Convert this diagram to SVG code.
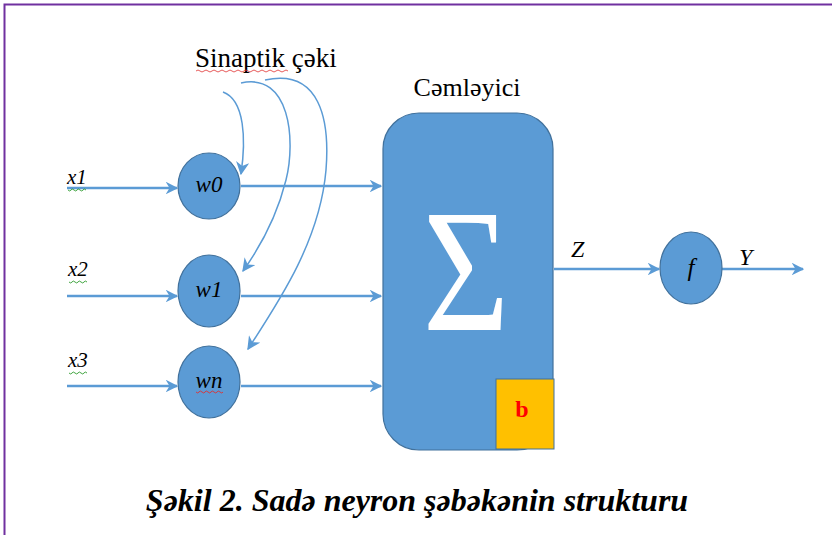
<svg xmlns="http://www.w3.org/2000/svg" width="832" height="535" viewBox="0 0 832 535">
<defs>
<marker id="ah" viewBox="0 0 10 10" refX="9" refY="5" markerWidth="5" markerHeight="5" orient="auto" markerUnits="strokeWidth">
<path d="M0,0 L10,5 L0,10 L3,5 Z" fill="#5b9bd5"/>
</marker>
<marker id="ahc" viewBox="0 0 10 10" refX="9" refY="5" markerWidth="9" markerHeight="9" orient="auto" markerUnits="strokeWidth">
<path d="M0,0 L10,5 L0,10 L3,5 Z" fill="#5b9bd5"/>
</marker>
</defs>
<rect width="832" height="535" fill="#fff"/>
<path d="M4.5,535 V4.5 H832" fill="none" stroke="#7030a0" stroke-width="2"/>

<g id="connectors" stroke="#5b9bd5" fill="none">
<g stroke-width="2.5">
<line x1="67" y1="188" x2="177" y2="188" marker-end="url(#ah)"/>
<line x1="67" y1="296" x2="177" y2="296" marker-end="url(#ah)"/>
<line x1="67" y1="386" x2="177" y2="386" marker-end="url(#ah)"/>
<line x1="241" y1="186" x2="381" y2="186" marker-end="url(#ah)"/>
<line x1="241" y1="296" x2="381" y2="296" marker-end="url(#ah)"/>
<line x1="241" y1="386" x2="381" y2="386" marker-end="url(#ah)"/>
<line x1="554" y1="269" x2="659" y2="269" marker-end="url(#ah)"/>
<line x1="722" y1="269" x2="803" y2="269" marker-end="url(#ah)"/>
</g>
<g stroke-width="1.5">
<path d="M223,92 C245,100 246,140 241,174" marker-end="url(#ahc)"/>
<path d="M241,83 C290,72 296,140 286,180 C276,220 258,250 243,271" marker-end="url(#ahc)"/>
<path d="M265,80 C320,68 330,120 326,170 C320,240 280,300 248,349" marker-end="url(#ahc)"/>
</g>
</g>

<g id="label-sinaptik">
<text x="195" y="67" font-family="Liberation Serif, serif" font-size="27" fill="#000">Sinaptik çəki</text>
<path d="M196,71 q2,-2 4,0 t4,0 t4,0 t4,0 t4,0 t4,0 t4,0 t4,0 t4,0 t4,0 t4,0 t4,0 t4,0 t4,0 t4,0 t4,0 t4,0 t4,0 t4,0 t4,0 t4,0 t4,0 t4,0" fill="none" stroke="#e03030" stroke-width="0.8"/>
</g>

<g id="input-x1">
<text x="67" y="184" font-family="Liberation Serif, serif" font-style="italic" font-size="21" fill="#000">x1</text>
<path d="M68,190 q2,2 3,0 t3,0 t3,0 t3,0 t3,0 t3,0" fill="none" stroke="#2e9c2e" stroke-width="0.9"/>
</g>
<g id="input-x2">
<text x="68" y="276" font-family="Liberation Serif, serif" font-style="italic" font-size="21" fill="#000">x2</text>
<path d="M69,282 q2,2 3,0 t3,0 t3,0 t3,0 t3,0 t3,0" fill="none" stroke="#2e9c2e" stroke-width="0.9"/>
</g>
<g id="input-x3">
<text x="68" y="367" font-family="Liberation Serif, serif" font-style="italic" font-size="21" fill="#000">x3</text>
<path d="M69,373 q2,2 3,0 t3,0 t3,0 t3,0 t3,0 t3,0" fill="none" stroke="#2e9c2e" stroke-width="0.9"/>
</g>

<g id="node-w0">
<ellipse cx="209" cy="186" rx="31" ry="33" fill="#5b9bd5" stroke="#41719c" stroke-width="1.2"/>
<text x="209" y="192" font-family="Liberation Serif, serif" font-style="italic" font-size="23" text-anchor="middle" fill="#000">w0</text>
</g>
<g id="node-w1">
<ellipse cx="209" cy="291" rx="31" ry="36" fill="#5b9bd5" stroke="#41719c" stroke-width="1.2"/>
<text x="209" y="297" font-family="Liberation Serif, serif" font-style="italic" font-size="23" text-anchor="middle" fill="#000">w1</text>
</g>
<g id="node-wn">
<ellipse cx="209" cy="382" rx="31" ry="36" fill="#5b9bd5" stroke="#41719c" stroke-width="1.2"/>
<text x="209" y="388" font-family="Liberation Serif, serif" font-style="italic" font-size="23" text-anchor="middle" fill="#000">wn</text>
<path d="M196,392 q2,2 3,0 t3,0 t3,0 t3,0 t3,0 t3,0 t3,0 t3,0 t3,0" fill="none" stroke="#e03030" stroke-width="0.9"/>
</g>

<g id="node-summator">
<text x="467" y="96" font-family="Liberation Serif, serif" font-size="26" text-anchor="middle" fill="#000">Cəmləyici</text>
<rect x="383" y="113" width="170" height="337" rx="36" ry="36" fill="#5b9bd5" stroke="#41719c" stroke-width="1.2"/>
<text x="0" y="0" font-family="Liberation Serif, serif" font-size="175" text-anchor="middle" fill="#fff" transform="translate(466,330) scale(0.85,1)">Σ</text>
</g>
<g id="node-b">
<rect x="496" y="379" width="58" height="70" fill="#ffc000" stroke="#41719c" stroke-width="1"/>
<text x="522" y="417" font-family="Liberation Serif, serif" font-size="24" font-weight="bold" text-anchor="middle" fill="#ff0000">b</text>
</g>

<g id="label-z">
<text x="571" y="257" font-family="Liberation Serif, serif" font-style="italic" font-size="24" fill="#000">Z</text>
</g>
<g id="node-f">
<ellipse cx="691" cy="268" rx="31" ry="36" fill="#5b9bd5" stroke="#41719c" stroke-width="1.2"/>
<text x="691" y="276" font-family="Liberation Serif, serif" font-style="italic" font-size="25" text-anchor="middle" fill="#000">f</text>
</g>
<g id="label-y">
<text x="739" y="265" font-family="Liberation Serif, serif" font-style="italic" font-size="24" fill="#000">Y</text>
</g>

<g id="caption">
<text x="417" y="511" font-family="Liberation Serif, serif" font-size="32" font-weight="bold" font-style="italic" text-anchor="middle" fill="#000">Şəkil 2. Sadə neyron şəbəkənin strukturu</text>
</g>
</svg>
